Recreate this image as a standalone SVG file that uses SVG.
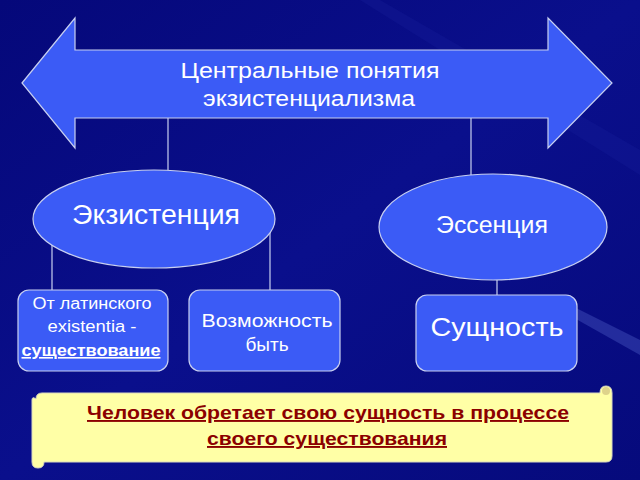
<svg xmlns="http://www.w3.org/2000/svg" width="640" height="480" viewBox="0 0 640 480">
<defs>
<linearGradient id="bg" x1="0" y1="0" x2="1" y2="1">
<stop offset="0" stop-color="#05087a"/>
<stop offset="0.5" stop-color="#0a0f8c"/>
<stop offset="1" stop-color="#060a7c"/>
</linearGradient>
<style>
.shape{fill:#3b5bf6;stroke:#c8d0f0;stroke-width:1.2}
.conn{stroke:#c8d0f0;stroke-width:1.2;fill:none}
.t{font-family:"Liberation Sans",Arial,sans-serif;fill:#ffffff;text-anchor:middle}
.note{font-family:"Liberation Sans",Arial,sans-serif;fill:#8b0000;font-weight:bold;text-anchor:middle;text-decoration:underline;font-size:19px}
</style>
</defs>
<rect width="640" height="480" fill="url(#bg)"/>
<path d="M380 0 L640 150 L640 175 L360 0 Z" fill="#1a24a0" opacity="0.25"/>
<path d="M560 300 L640 340 L640 355 L560 310 Z" fill="#5a6ad0" opacity="0.35"/>
<g id="connectors">
<line class="conn" x1="168" y1="118" x2="168" y2="170"/>
<line class="conn" x1="471" y1="118" x2="471" y2="175"/>
<line class="conn" x1="52" y1="245" x2="52" y2="290"/>
<line class="conn" x1="270" y1="232" x2="270" y2="290"/>
<line class="conn" x1="497" y1="280" x2="497" y2="295"/>
</g>
<g id="central">
<path class="shape" d="M22 83 L75 18 L75 50 L548 50 L548 18 L612 83 L548 148 L548 118 L75 118 L75 148 Z"/>
<text class="t" x="310" y="78" font-size="22" textLength="259" lengthAdjust="spacingAndGlyphs">Центральные понятия</text>
<text class="t" x="309" y="106" font-size="22" textLength="212" lengthAdjust="spacingAndGlyphs">экзистенциализма</text>
</g>
<g id="existence">
<ellipse class="shape" cx="154" cy="219" rx="121" ry="49"/>
<text class="t" x="156" y="224" font-size="27" textLength="168" lengthAdjust="spacingAndGlyphs">Экзистенция</text>
</g>
<g id="essence">
<ellipse class="shape" cx="493" cy="227" rx="114" ry="53"/>
<text class="t" x="492" y="233" font-size="23" textLength="112" lengthAdjust="spacingAndGlyphs">Эссенция</text>
</g>
<g id="latin">
<rect class="shape" x="18" y="290" width="150" height="81" rx="11"/>
<text class="t" x="92" y="309" font-size="16" textLength="119" lengthAdjust="spacingAndGlyphs">От латинского</text>
<text class="t" x="92" y="332" font-size="16" textLength="89" lengthAdjust="spacingAndGlyphs">existentia -</text>
<text class="t" x="91" y="356" font-size="16" font-weight="bold" text-decoration="underline" textLength="139" lengthAdjust="spacingAndGlyphs">существование</text>
</g>
<g id="possibility">
<rect class="shape" x="189" y="290" width="151" height="81" rx="11"/>
<text class="t" x="267" y="327" font-size="19" textLength="131" lengthAdjust="spacingAndGlyphs">Возможность</text>
<text class="t" x="267" y="351" font-size="19">быть</text>
</g>
<g id="essence-box">
<rect class="shape" x="416" y="295" width="161" height="76" rx="11"/>
<text class="t" x="497" y="336" font-size="26" textLength="133" lengthAdjust="spacingAndGlyphs">Сущность</text>
</g>
<g id="note">
<path d="M36 399 Q36 393 42 393 L600 393 Q600 386 606 386 Q612 386 612 393 L612 456 Q612 462 606 462 L44 462 Q44 468 38 468 Q32 468 32 462 L32 400 Q32 396 36 399 Z" fill="#ffffa6" stroke="#d8d8c0" stroke-width="1"/>
<circle cx="606" cy="391" r="4" fill="#d0c080" opacity="0.7"/>
<text class="note" x="328" y="419" textLength="482" lengthAdjust="spacingAndGlyphs">Человек обретает свою сущность в процессе</text>
<text class="note" x="327" y="445" textLength="240" lengthAdjust="spacingAndGlyphs">своего существования</text>
</g>
</svg>
